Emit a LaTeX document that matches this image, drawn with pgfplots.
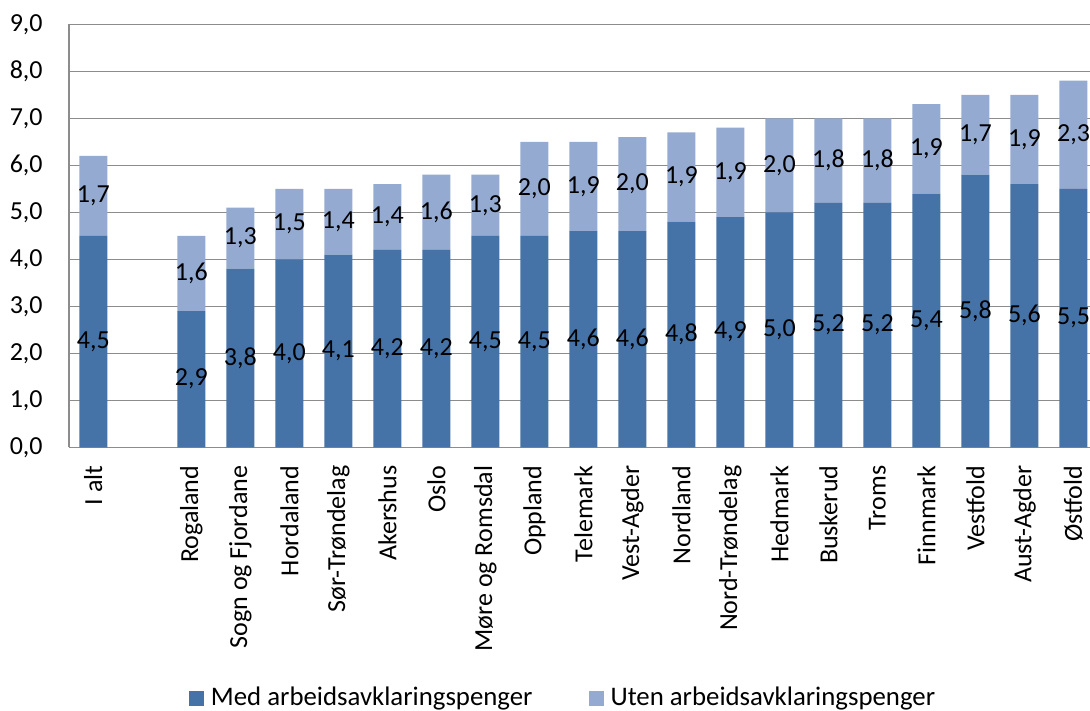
\documentclass[border=0pt]{standalone}
\usepackage{pgfplots}
\usepackage{pgfplotstable}
\pgfplotsset{compat=1.18}
\usepackage{fontspec}
\setmainfont{Carlito}
\definecolor{darkbar}{RGB}{69,114,167}
\definecolor{lightbar}{RGB}{148,170,208}
\definecolor{gridgray}{RGB}{140,140,140}
\pgfplotstableread{
x med uten
0 4.5 1.7
2 2.9 1.6
3 3.8 1.3
4 4.0 1.5
5 4.1 1.4
6 4.2 1.4
7 4.2 1.6
8 4.5 1.3
9 4.5 2.0
10 4.6 1.9
11 4.6 2.0
12 4.8 1.9
13 4.9 1.9
14 5.0 2.0
15 5.2 1.8
16 5.2 1.8
17 5.4 1.9
18 5.8 1.7
19 5.6 1.9
20 5.5 2.3
}\data
\begin{document}
\begin{tikzpicture}
\begin{axis}[
  scale only axis,
  width=510.5bp, height=211.5bp,
  xmin=-0.496, xmax=20.337,
  ymin=0, ymax=9,
  ytick={0,1,...,9},
  xtick=data,
  xticklabels={I alt,Rogaland,Sogn og Fjordane,Hordaland,Sør-Trøndelag,Akershus,Oslo,Møre og Romsdal,Oppland,Telemark,Vest-Agder,Nordland,Nord-Trøndelag,Hedmark,Buskerud,Troms,Finnmark,Vestfold,Aust-Agder,Østfold},
  ybar stacked,
  bar width=14bp,
  axis lines*=left,
  axis line style={gridgray, line width=0.65bp},
  ymajorgrids,
  grid style={gridgray, line width=0.65bp},
  major tick length=0pt,
  /pgf/number format/.cd, use comma, fixed, fixed zerofill, precision=1, assume math mode=true,
  /pgfplots/.cd,
  tick label style={font=\fontsize{13bp}{15bp}\selectfont, inner sep=0pt},
  xticklabel style={rotate=90, anchor=east},
  xticklabel shift=9bp,
  yticklabel shift=13bp,
  point meta=explicit,
  nodes near coords,
  nodes near coords style={font=\fontsize{13bp}{15bp}\selectfont, anchor=center, inner sep=0pt, text=black},
  legend columns=2,
  legend style={at={(0.4829,0)}, anchor=center, yshift=-125.35bp, draw=none,
    font=\fontsize{13.4bp}{15bp}\selectfont,
    nodes={inner sep=0pt},
    /tikz/every odd column/.append style={column sep=3.5bp},
    /tikz/every even column/.append style={column sep=28bp}},
]
\addplot[fill=darkbar, draw=none,
  legend image code/.code={\fill[darkbar] (0bp,-3.75bp) rectangle (7.5bp,3.75bp);}]
  table[x=x, y=med, meta=med] {\data};
\addlegendentry{Med arbeidsavklaringspenger}
\addplot[fill=lightbar, draw=none,
  legend image code/.code={\fill[lightbar] (0bp,-3.75bp) rectangle (7.5bp,3.75bp);}]
  table[x=x, y=uten, meta=uten] {\data};
\addlegendentry{Uten arbeidsavklaringspenger}
\end{axis}
\pgfresetboundingbox
\useasboundingbox (-34.5bp,-131.85bp) rectangle (510.5bp,223.65bp);
\end{tikzpicture}
\end{document}
